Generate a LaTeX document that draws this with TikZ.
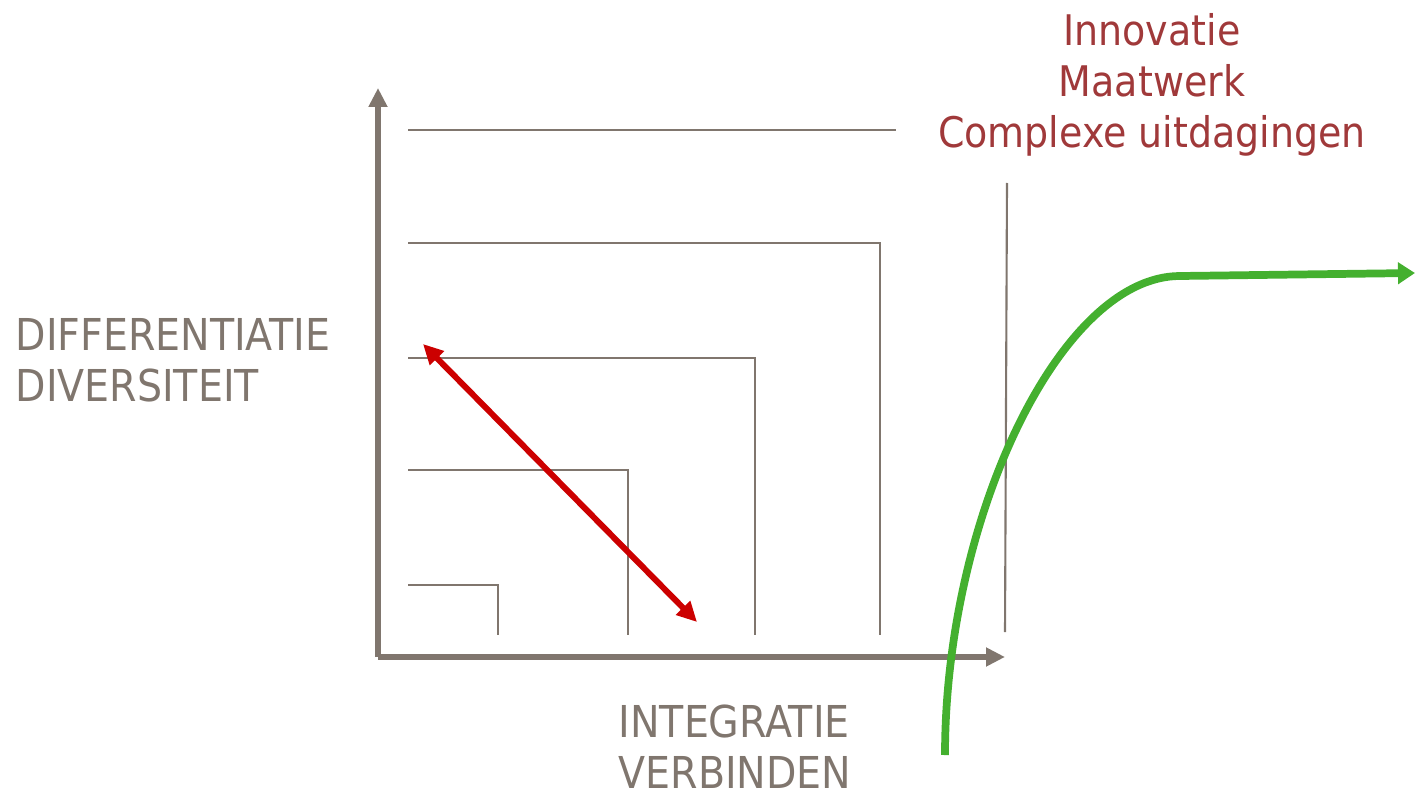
\documentclass[tikz,border=0pt]{standalone}
\usepackage{fontspec}
\setmainfont{DejaVu Sans Condensed}
\usepackage{xcolor}
\usetikzlibrary{arrows.meta,positioning,calc}

\definecolor{axisgray}{HTML}{80766E}
\definecolor{lblred}{HTML}{A0393A}
\definecolor{arrred}{HTML}{CC0000}
\definecolor{curvegreen}{HTML}{44B02F}

\begin{document}
\begin{tikzpicture}[
    axis/.style={draw=axisgray,line width=1.7pt,-{Triangle[length=0.19cm,width=0.18cm]}},
    guide/.style={draw=axisgray,line width=0.6pt},
    lbl/.style={inner sep=0pt,font=\fontsize{12.5}{14.5}\selectfont}
]
    \useasboundingbox (0,0) rectangle (14.17,7.99);

    % Axes
    \coordinate (o) at (3.78,1.42);
    \coordinate (ytip) at (3.78,7.11);
    \coordinate (xtip) at (10.05,1.42);
    \draw[axis] (o) -- (ytip);
    \draw[axis] (o) -- (xtip);

    % Nested levels
    \draw[guide] (4.08,6.69) -- (8.96,6.69);
    \draw[guide] (4.08,5.56) -- (8.80,5.56) -- (8.80,1.64);
    \draw[guide] (4.08,4.41) -- (7.55,4.41) -- (7.55,1.64);
    \draw[guide] (4.08,3.29) -- (6.28,3.29) -- (6.28,1.64);
    \draw[guide] (4.08,2.14) -- (4.98,2.14) -- (4.98,1.64);
    \draw[guide] (10.07,6.16) -- (10.05,1.67);

    % Tension between both axes
    \coordinate (rtop) at (4.23,4.55);
    \coordinate (rbot) at (6.97,1.77);
    \draw[arrred,line width=1.7pt,{Triangle[length=0.2cm,width=0.19cm]}-{Triangle[length=0.2cm,width=0.19cm]}] (rtop) -- (rbot);

    % Growth curve
    \coordinate (gstart) at (9.45,0.44);
    \coordinate (gbend) at (11.80,5.23);
    \coordinate (gend) at (14.15,5.26);
    \draw[curvegreen,line width=2.2pt,-{Triangle[length=0.17cm,width=0.21cm]}] (gstart) .. controls (9.45,2.8) and (10.6,5.23) .. (gbend) -- (gend);

    % Labels
    \node[lbl,text=lblred,align=center,font=\fontsize{12}{14.5}\selectfont] (goal) at (11.52,7.14) {Innovatie\\Maatwerk\\Complexe uitdagingen};
    \node[lbl,text=axisgray,align=left,anchor=west] (ylbl) at (0.15,4.39) {DIFFERENTIATIE\\DIVERSITEIT};
    \node[lbl,text=axisgray,align=left,anchor=west] (xlbl) at (6.18,0.52) {INTEGRATIE\\VERBINDEN};
\end{tikzpicture}
\end{document}
